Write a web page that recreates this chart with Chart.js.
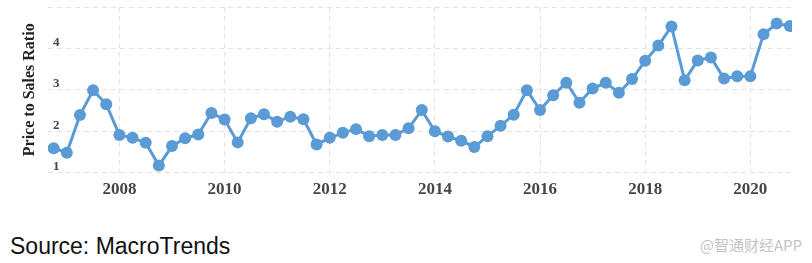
<!DOCTYPE html>
<html>
<head>
<meta charset="utf-8">
<script src="https://cdn.jsdelivr.net/npm/chart.js@4"></script>
<style>
  html, body { margin: 0; padding: 0; background: #ffffff; }
  #wrap { position: relative; width: 812px; height: 263px; overflow: hidden; }
  #chartBox { position: absolute; left: 0; top: 0; width: 812px; height: 205px; }
  #source { position: absolute; left: 10px; top: 235px; font: 23px/23px "Liberation Sans", Arial, sans-serif; color: #111; white-space: nowrap; }
  #mark { position: absolute; right: 10px; top: 235px; font: 15px/20px "Noto Sans CJK SC", sans-serif; color: #c4c4c4; white-space: nowrap; }
</style>
</head>
<body>
<div id="wrap">
  <div id="chartBox"><canvas id="grafico"></canvas></div>
  <div id="source">Source: MacroTrends</div>
  <div id="mark">@智通财经APP</div>
</div>
<script>
// Fim de trimestre (datas) e rácio preço/vendas
const quarterEnds = [
  '2006-09-30', '2006-12-31',
  '2007-03-31', '2007-06-30', '2007-09-30', '2007-12-31',
  '2008-03-31', '2008-06-30', '2008-09-30', '2008-12-31',
  '2009-03-31', '2009-06-30', '2009-09-30', '2009-12-31',
  '2010-03-31', '2010-06-30', '2010-09-30', '2010-12-31',
  '2011-03-31', '2011-06-30', '2011-09-30', '2011-12-31',
  '2012-03-31', '2012-06-30', '2012-09-30', '2012-12-31',
  '2013-03-31', '2013-06-30', '2013-09-30', '2013-12-31',
  '2014-03-31', '2014-06-30', '2014-09-30', '2014-12-31',
  '2015-03-31', '2015-06-30', '2015-09-30', '2015-12-31',
  '2016-03-31', '2016-06-30', '2016-09-30', '2016-12-31',
  '2017-03-31', '2017-06-30', '2017-09-30', '2017-12-31',
  '2018-03-31', '2018-06-30', '2018-09-30', '2018-12-31',
  '2019-03-31', '2019-06-30', '2019-09-30', '2019-12-31',
  '2020-03-31', '2020-06-30', '2020-09-30'
];
const psRatio = [
  1.59, 1.48,
  2.39, 2.99, 2.65, 1.91,
  1.84, 1.72, 1.17, 1.64,
  1.83, 1.92, 2.44, 2.28,
  1.73, 2.31, 2.41, 2.23,
  2.35, 2.29, 1.68, 1.84,
  1.96, 2.05, 1.88, 1.91,
  1.91, 2.07, 2.51, 2.00,
  1.87, 1.77, 1.62, 1.88,
  2.13, 2.40, 2.99, 2.51,
  2.87, 3.17, 2.69, 3.03,
  3.17, 2.93, 3.26, 3.70,
  4.07, 4.53, 3.23, 3.71,
  3.78, 3.27, 3.33, 3.33,
  4.34, 4.60, 4.54
];
const yearTicks = [2008, 2010, 2012, 2014, 2016, 2018, 2020];
const ratioTicks = [1, 2, 3, 4, 5];

// data -> ano decimal (31/12 conta como início do ano seguinte)
function toYear(d) {
  const p = d.split('-');
  return Number(p[0]) + Number(p[1]) / 12;
}
const points = quarterEnds.map((d, i) => ({ x: toYear(d), y: psRatio[i] }));

const azul = '#5b9bd5';
const grade = '#e3e3e3';

new Chart(document.getElementById('grafico').getContext('2d'), {
  type: 'line',
  data: {
    datasets: [{
      label: 'Price to Sales Ratio',
      data: points,
      borderColor: azul,
      backgroundColor: azul,
      borderWidth: 3,
      pointRadius: 6,
      pointBorderWidth: 0,
      pointBackgroundColor: azul,
      tension: 0
    }]
  },
  options: {
    responsive: true,
    maintainAspectRatio: false,
    animation: false,
    layout: { padding: { top: 7, right: 20, left: 0, bottom: 0 } },
    plugins: { legend: { display: false }, tooltip: { enabled: false } },
    scales: {
      x: {
        type: 'linear',
        min: 2006.642,
        max: 2020.792,
        afterBuildTicks: s => { s.ticks = yearTicks.map(v => ({ value: v })); },
        afterFit: s => { s.height = 32.4; },
        grid: { color: grade, lineWidth: 1, drawTicks: false },
        border: { display: false, dash: [5, 4] },
        ticks: {
          padding: 7,
          color: '#454545',
          font: { family: 'Liberation Serif', size: 17, weight: 'bold' },
          callback: v => String(v)
        }
      },
      y: {
        min: 1,
        max: 5,
        afterBuildTicks: s => { s.ticks = ratioTicks.map(v => ({ value: v })); },
        // rótulos ficam dentro da área, não precisam de folga em cima/baixo
        afterFit: s => { s.width = 48; s.paddingTop = 0; s.paddingBottom = 0; },
        grid: { color: grade, lineWidth: 1, drawTicks: false },
        border: { display: false, dash: [5, 4] },
        ticks: {
          mirror: true,
          padding: 5,
          labelOffset: -6,
          color: '#444',
          font: { family: 'Liberation Serif', size: 13, weight: 'bold' },
          callback: v => (v === 5 ? '' : String(v))
        },
        title: {
          display: true,
          text: 'Price to Sales Ratio',
          color: '#222',
          padding: { top: 20, bottom: 0 },
          font: { family: 'Liberation Serif', size: 16, weight: 'bold' }
        }
      }
    }
  }
});
</script>
</body>
</html>
